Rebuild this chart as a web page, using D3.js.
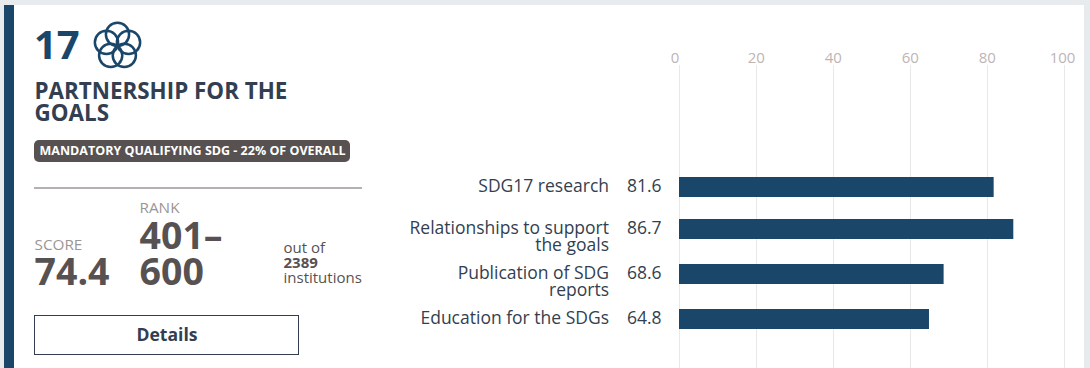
<!DOCTYPE html>
<html>
<head>
<meta charset="utf-8">
<script src="https://cdn.jsdelivr.net/npm/d3@7"></script>
<style>
  html, body { margin: 0; padding: 0; background: #e8ebee; overflow: hidden; }
  svg { display: block; font-family: "Open Sans", sans-serif; }
</style>
</head>
<body>
<div id="chart"></div>
<script>
// Values
const categories = ["SDG17 research", "Relationships to support the goals", "Publication of SDG reports", "Education for the SDGs"]
const labelLines = [["SDG17 research"], ["Relationships to support", "the goals"], ["Publication of SDG", "reports"], ["Education for the SDGs"]]
const scores = [81.6, 86.7, 68.6, 64.8]
const xTicks = [0, 20, 40, 60, 80, 100]
const titleLines = ["PARTNERSHIP FOR THE", "GOALS"]
const rankLines = ["401–", "600"]
const outOfLines = [["out of", 400], ["2389", 700], ["institutions", 400]]

const width = 1090
const height = 368
const navy = "#1a4769"
const slate = "#333f50"
const grey = "#575151"

const svg = d3.select("#chart").append("svg")
    .attr("width", width)
    .attr("height", height)

// Card and left band
svg.append("rect").attr("x", 4).attr("y", 5).attr("width", 1080).attr("height", 363).attr("fill", "#fff")
svg.append("rect").attr("x", 4).attr("y", 5).attr("width", 10).attr("height", 363).attr("fill", navy)

function addText(x, y, str, size, weight, color, anchor) {
    return svg.append("text")
        .attr("x", x)
        .attr("y", y)
        .attr("font-size", size)
        .attr("font-weight", weight)
        .attr("fill", color)
        .attr("text-anchor", anchor || "start")
        .text(str)
}

// Header
addText(34, 59, "17", 40, 700, navy)
const petals = d3.range(5).map(function(i) { return i * 2 * Math.PI / 5 })
svg.append("g")
    .attr("transform", "translate(117.5,46)")
    .selectAll("circle")
    .data(petals)
    .enter()
    .append("circle")
    .attr("cx", function(d) { return 11.6 * Math.sin(d) })
    .attr("cy", function(d) { return -11.6 * Math.cos(d) })
    .attr("r", 11.6)
    .attr("fill", "none")
    .attr("stroke", navy)
    .attr("stroke-width", 2.5)

titleLines.forEach(function(t, i) {
    addText(34.5, 99 + i * 22, t, 22.4, 700, slate)
})

svg.append("rect").attr("x", 34).attr("y", 140).attr("width", 316).attr("height", 22).attr("rx", 5).attr("fill", grey)
addText(39.5, 155, "MANDATORY QUALIFYING SDG - 22% OF OVERALL", 12.5, 700, "#fff")

svg.append("rect").attr("x", 34).attr("y", 187).attr("width", 328).attr("height", 2).attr("fill", "#b5b1b1")

// Score and rank
addText(34.5, 250, "SCORE", 15.3, 400, "#9a9696")
addText(34.5, 285, "74.4", 37.5, 700, grey)
addText(139.5, 213, "RANK", 15.3, 400, "#9a9696")
rankLines.forEach(function(t, i) {
    addText(139.5, 249 + i * 36, t, 37.5, 700, grey)
})
outOfLines.forEach(function(d, i) {
    addText(283.5, 253 + i * 15, d[0], 15, d[1], grey)
})

// Details button
svg.append("rect").attr("x", 34.5).attr("y", 315.5).attr("width", 264).attr("height", 39)
    .attr("fill", "#fff").attr("stroke", slate).attr("stroke-width", 1)
addText(167, 341, "Details", 17.6, 700, slate, "middle")

// Chart
const x = d3.scaleLinear().domain([0, 100]).range([679.5, 1064.5])
// rows are not evenly spaced, their height follows the label
const rowY = d3.scaleOrdinal().domain(categories).range([187, 229, 274, 319])
const barHeight = 20

const xAxis = d3.axisTop(x).tickValues(xTicks).tickSize(0).tickPadding(2)
const axisG = svg.append("g")
    .attr("transform", "translate(0,65)")
    .call(xAxis)
axisG.select(".domain").remove()
axisG.selectAll("text")
    .attr("font-family", "Open Sans")
    .attr("font-size", 15)
    .attr("fill", "#bdb5b5")
    // the end labels are pulled inward in the original
    .attr("text-anchor", function(d) { return d === 0 ? "end" : "middle" })
    .attr("dx", function(d) { return d === 100 ? -2.5 : -0.8 })

svg.selectAll("line.grid")
    .data(xTicks)
    .enter()
    .append("line")
    .attr("class", "grid")
    .attr("x1", function(d) { return x(d) })
    .attr("x2", function(d) { return x(d) })
    .attr("y1", 65)
    .attr("y2", height)
    .attr("stroke", "#e8e8e8")
    .attr("stroke-width", 1)

svg.selectAll("rect.bar")
    .data(categories)
    .enter()
    .append("rect")
    .attr("class", "bar")
    .attr("x", x(0) - 0.5)
    .attr("y", function(d) { return rowY(d) - barHeight / 2 })
    .attr("width", function(d, i) { return x(scores[i]) - x(0) + 0.5 })
    .attr("height", barHeight)
    .attr("fill", navy)

categories.forEach(function(c, i) {
    labelLines[i].forEach(function(t, j) {
        addText(609, rowY(c) + 5 + j * 17, t, 17.5, 400, slate, "end")
    })
    addText(627, rowY(c) + 5, scores[i].toFixed(1), 17.5, 400, slate)
})
</script>
</body>
</html>
